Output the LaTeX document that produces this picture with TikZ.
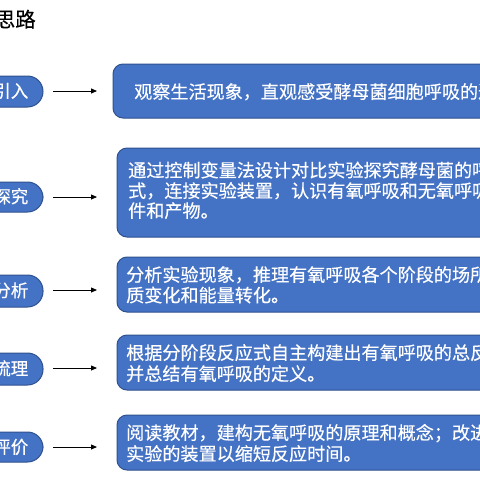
\documentclass[tikz,border=0pt]{standalone}
\usepackage{fontspec}
\newfontfamily\cjk[FakeBold=0.4]{Noto Sans CJK SC}
\usetikzlibrary{arrows.meta}
\definecolor{boxfill}{HTML}{4472C4}
\definecolor{boxline}{HTML}{2F528F}
\tikzset{
  x=1pt,y=-1pt,
  pill/.style={fill=boxfill,draw=boxline,line width=1pt,rounded corners=15.5pt},
  card/.style={fill=boxfill,draw=boxline,line width=1pt,rounded corners=10pt},
  stagetext/.style={text=white,font=\cjk\fontsize{17.5}{20}\selectfont,inner sep=0pt,anchor=base east},
  cardtext/.style={text=white,font=\cjk\fontsize{18.1}{21}\selectfont,inner sep=0pt,anchor=base west},
  flow/.style={-{Triangle[length=6pt,width=5pt]},line width=0.8pt,black},
}
\begin{document}
\begin{tikzpicture}
\useasboundingbox (0,0) rectangle (480,480);
\clip (0,0) rectangle (480,480);
\fill[white] (0,0) rectangle (480,480);
% title
\node[anchor=base east,inner sep=0pt,font=\cjk\fontsize{20.5}{24}\selectfont] (title) at (36,27) {思路};
% pills
\draw[pill] (-40,76) rectangle (43,107);
\draw[pill] (-40,182) rectangle (43,212);
\draw[pill] (-40,275) rectangle (43,307);
\draw[pill] (-40,353) rectangle (43,385);
\draw[pill] (-40,432) rectangle (43,462);
\node[stagetext] (s1) at (28.5,97.5) {引入};
\node[stagetext] (s2) at (28.5,203) {探究};
\node[stagetext] (s3) at (28.5,297) {分析};
\node[stagetext] (s4) at (28.5,375) {梳理};
\node[stagetext] (s5) at (28.5,453.5) {评价};
% cards
\draw[card] (113,64) rectangle (540,118);
\draw[card] (117,148) rectangle (540,237);
\draw[card] (117,257) rectangle (540,312);
\draw[card] (117,335) rectangle (540,390);
\draw[card] (117,415) rectangle (540,470);
\node[cardtext] (c1) at (134,98.5) {观察生活现象，直观感受酵母菌细胞呼吸的过程。};
\node[cardtext] (c2a) at (128,177) {通过控制变量法设计对比实验探究酵母菌的呼吸方};
\node[cardtext] (c2b) at (128,197.5) {式，连接实验装置，认识有氧呼吸和无氧呼吸的条};
\node[cardtext] (c2c) at (128,217.5) {件和产物。};
\node[cardtext] (c3a) at (126,281.5) {分析实验现象，推理有氧呼吸各个阶段的场所、物};
\node[cardtext] (c3b) at (126,302) {质变化和能量转化。};
\node[cardtext] (c4a) at (126,359.5) {根据分阶段反应式自主构建出有氧呼吸的总反应式};
\node[cardtext] (c4b) at (126,380.5) {并总结有氧呼吸的定义。};
\node[cardtext] (c5a) at (126,439.5) {阅读教材，建构无氧呼吸的原理和概念；改进探究};
\node[cardtext] (c5b) at (126,460.5) {实验的装置以缩短反应时间。};
% arrows
\coordinate (a1) at (53,91); \coordinate (b1) at (97,91);
\coordinate (a2) at (53,197); \coordinate (b2) at (97,197);
\coordinate (a3) at (53,290); \coordinate (b3) at (97,290);
\coordinate (a4) at (53,368); \coordinate (b4) at (97,368);
\coordinate (a5) at (53,447); \coordinate (b5) at (97,447);
\draw[flow] (a1) -- (b1);
\draw[flow] (a2) -- (b2);
\draw[flow] (a3) -- (b3);
\draw[flow] (a4) -- (b4);
\draw[flow] (a5) -- (b5);
\end{tikzpicture}
\end{document}
